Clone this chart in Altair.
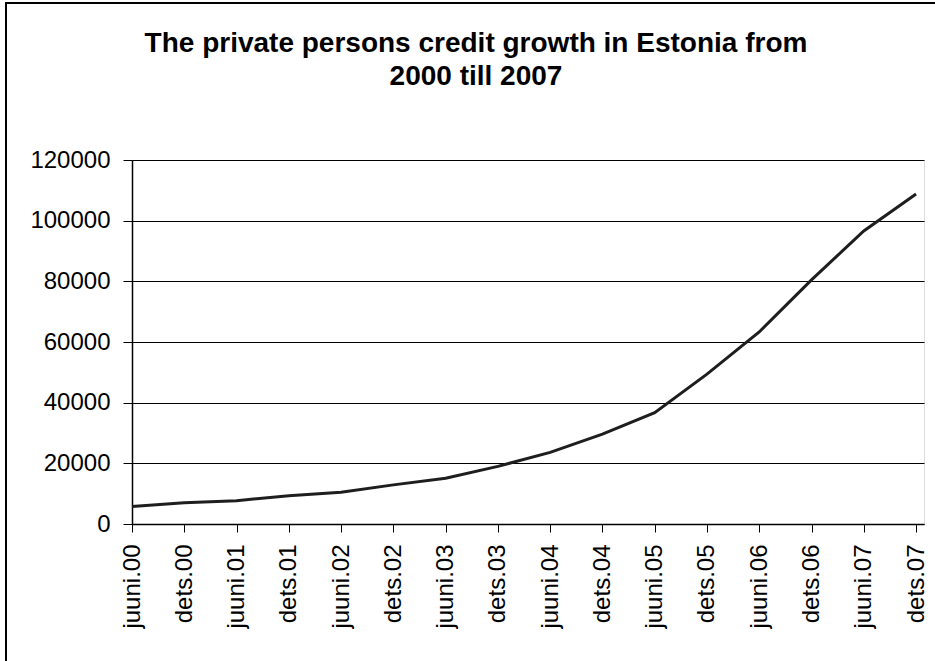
import altair as alt
import pandas as pd

labels = ["juuni.00", "dets.00", "juuni.01", "dets.01", "juuni.02", "dets.02",
          "juuni.03", "dets.03", "juuni.04", "dets.04", "juuni.05", "dets.05",
          "juuni.06", "dets.06", "juuni.07", "dets.07"]
values = [5800, 7000, 7700, 9300, 10500, 12900, 15100, 19000,
          23600, 29600, 36700, 49400, 63300, 80500, 96600, 108800]
y_ticks = [0, 20000, 40000, 60000, 80000, 100000, 120000]
title_lines = ["The private persons credit growth in Estonia from", "2000 till 2007"]

df = pd.DataFrame({"period": labels, "credit": values})

FONT = "Liberation Sans"

line = alt.Chart(df).mark_line(color="#1e1e1e", strokeWidth=3).encode(
    x=alt.X("period:N", sort=labels,
            scale=alt.Scale(type="point", padding=0.076, align=0),
            axis=alt.Axis(title=None, labelAngle=-90, labelFontSize=24, labelFont=FONT,
                          labelColor="black", labelPadding=12, tickSize=8,
                          tickColor="black", domainColor="black", domainWidth=1.5,
                          grid=False, labelOverlap=False)),
    y=alt.Y("credit:Q",
            scale=alt.Scale(domain=[0, 120000], nice=False),
            axis=alt.Axis(title=None, values=y_ticks, format="d", labelFontSize=24,
                          labelFont=FONT, labelColor="black", labelPadding=13,
                          tickSize=9, tickColor="black", domainColor="black",
                          domainWidth=1.5, gridColor="black", gridWidth=1,
                          gridOpacity=1)),
)

frame = alt.Chart(pd.DataFrame({"a": [0]})).mark_rect(
    fill=None, stroke="black", strokeWidth=2, clip=False
).encode(
    x=alt.value(-126), x2=alt.value(820),
    y=alt.value(-157), y2=alt.value(520),
)

chart = alt.layer(line, frame).properties(
    width=792, height=364,
    title=alt.TitleParams(text=title_lines, fontSize=28, font=FONT, fontWeight="bold",
                          color="black", lineHeight=33, anchor="middle",
                          frame="group", dx=-52, offset=0, dy=89),
    padding={"left": 132, "top": 160, "right": 11, "bottom": 137},
    autosize=alt.AutoSizeParams(type="none"),
).configure_view(stroke="#808080", strokeWidth=1.5).configure(background="white")

chart.save("out.html", embed_options={"renderer": "svg", "actions": False})
